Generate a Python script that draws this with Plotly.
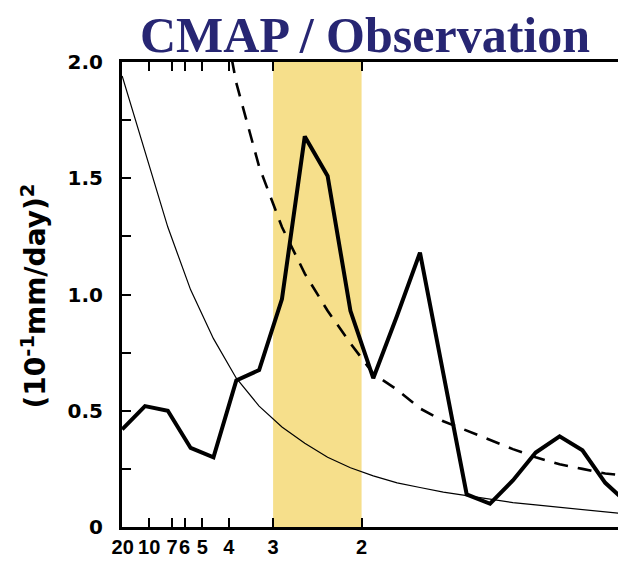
import plotly.graph_objects as go

# frequency (cycles/day) of spectral estimates
freq = [0.049, 0.092, 0.135, 0.178, 0.221, 0.264, 0.307, 0.350, 0.393, 0.436,
        0.479, 0.522, 0.567, 0.610, 0.654, 0.698, 0.742, 0.785, 0.828, 0.873,
        0.916, 0.959, 1.002]
# observed power spectrum (thick solid)
power = [0.42, 0.52, 0.50, 0.34, 0.30, 0.63, 0.675, 0.98, 1.68, 1.51,
         0.93, 0.64, 0.91, 1.18, 0.66, 0.14, 0.10, 0.20, 0.32, 0.39,
         0.33, 0.19, 0.10]
# red-noise background (thin solid)
red_noise = [1.94, 1.62, 1.29, 1.02, 0.81, 0.64, 0.52, 0.43, 0.36, 0.30,
             0.255, 0.22, 0.19, 0.17, 0.15, 0.135, 0.12, 0.105, 0.095, 0.085,
             0.075, 0.065, 0.055]
# significance level (dashed)
signif = [5.8, 4.9, 3.9, 3.06, 2.43, 1.91, 1.55, 1.29, 1.09, 0.93,
          0.79, 0.66, 0.59, 0.51, 0.455, 0.415, 0.375, 0.335, 0.30, 0.27,
          0.25, 0.23, 0.22]

period_ticks = [20, 10, 7, 6, 5, 4, 3, 2, 1]
period_labels = ["20", "10", "7", "6", "5", "4", "3", "2", "1"]
y_ticks = [0, 0.25, 0.5, 0.75, 1.0, 1.25, 1.5, 1.75, 2.0]
y_labels = ["0", "", "0.5", "", "1.0", "", "1.5", "", "2.0"]
band_periods = [3, 2]

fig = go.Figure()
fig.add_shape(type="rect", xref="x", yref="y",
              x0=1 / band_periods[0], x1=1 / band_periods[1], y0=0, y1=2.0,
              fillcolor="#F6DF8B", line_width=0, layer="below")

fig.add_trace(go.Scatter(x=freq, y=red_noise, mode="lines",
                         line=dict(color="black", width=1.2), showlegend=False))
fig.add_trace(go.Scatter(x=freq, y=signif, mode="lines",
                         line=dict(color="black", width=2.6, dash="14px,10px"),
                         showlegend=False))
fig.add_trace(go.Scatter(x=freq, y=power, mode="lines",
                         line=dict(color="black", width=4), showlegend=False))

L, T, R, B = 114, 54, 626, 519   # plot box in figure pixels
PW, PH = R - L, B - T

fig.update_layout(
    width=626, height=562,
    margin=dict(l=L, r=626 - R, t=T, b=562 - B),
    paper_bgcolor="white", plot_bgcolor="rgba(0,0,0,0)",
    xaxis=dict(range=[0.0487, 1.0075], tickmode="array",
               tickvals=[1 / p for p in period_ticks], ticktext=period_labels,
               tickangle=0,
               ticks="inside", ticklen=9, tickwidth=2, tickcolor="black",
               showline=True, linecolor="black", linewidth=3, mirror="ticks",
               showgrid=False, zeroline=False,
               tickfont=dict(family="Liberation Sans", size=20, color="black",
                             weight="bold")),
    yaxis=dict(range=[0, 2.0], tickmode="array", tickvals=y_ticks,
               ticktext=y_labels, ticks="inside", ticklen=9, tickwidth=2,
               tickcolor="black", showline=True, linecolor="black",
               linewidth=3, mirror="ticks", showgrid=False, zeroline=False,
               ticklabelstandoff=12,
               tickfont=dict(family="DejaVu Sans", size=20, color="black",
                             weight="bold")),
    annotations=[
        dict(text="<b>CMAP / Observation</b>", xref="paper", yref="paper",
             x=(358 - L) / PW, y=1 + (T - 27) / PH, xanchor="center",
             yanchor="middle", showarrow=False,
             font=dict(family="Liberation Serif", size=50, color="#272673")),
        dict(text="<b>(10<sup>-1</sup>mm/day)<sup>2</sup></b>", xref="paper",
             yref="paper", x=(25 - L) / PW, y=(B - 288) / PH,
             xanchor="center", yanchor="middle", textangle=-90,
             showarrow=False,
             font=dict(family="DejaVu Sans", size=28, color="black")),
    ],
)

fig.write_html("out.html")
